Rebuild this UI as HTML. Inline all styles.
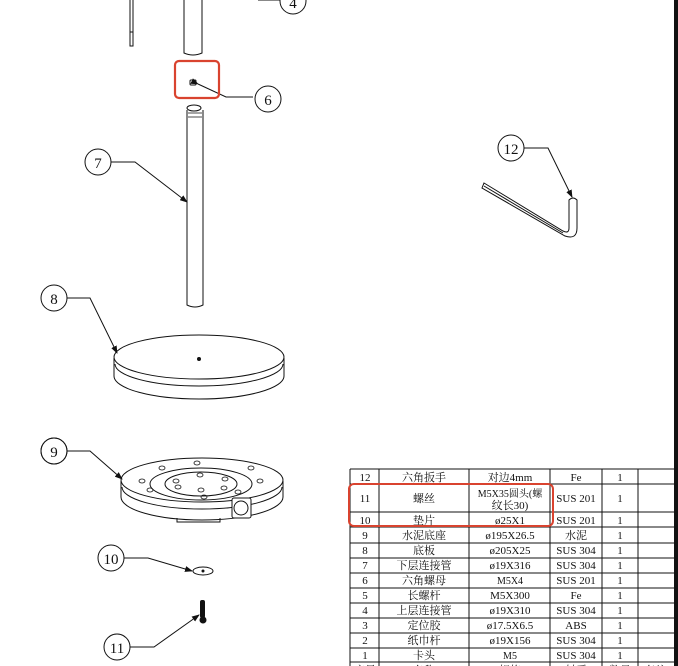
<!DOCTYPE html>
<html><head><meta charset="utf-8"><style>
html,body{margin:0;padding:0;background:#fff;width:678px;height:666px;overflow:hidden}
svg{display:block}
text{font-family:"Liberation Serif","Noto Serif CJK SC",serif;fill:#111}
</style></head><body>
<svg width="678" height="666" viewBox="0 0 678 666" xmlns="http://www.w3.org/2000/svg">
<defs><marker id="a" markerWidth="8" markerHeight="6" refX="7" refY="3" orient="auto"><path d="M0,0 L8,3 L0,6z" fill="#111"/></marker></defs>
<g stroke="#111" fill="none" stroke-width="1">
<path d="M130,0 V46 H133 V0"/>
<line x1="130" y1="32" x2="133" y2="32"/>
<path d="M184,0 V53 Q193,57 202,53 V0"/>
<path d="M258,0 H280"/>
<circle cx="293" cy="1" r="13" fill="#fff"/>
<rect x="190" y="80" width="6" height="5" rx="1"/>
<path d="M198,84 L226,97 H253" marker-start="url(#a)"/>
<circle cx="268" cy="99" r="13"/>
<rect x="175" y="61" width="44" height="37" rx="4" stroke="#d9432f" stroke-width="2.2"/>
<ellipse cx="194" cy="108" rx="7" ry="3"/>
<path d="M187,110 V305 Q195,309 203,305 V110"/>
<path d="M188,113 H202 M188,117 H202" stroke-width="0.8"/>
<circle cx="98" cy="162" r="13"/>
<path d="M111,162 H135 L187,202" marker-end="url(#a)"/>
<!-- base 8 -->
<circle cx="54" cy="298" r="13"/>
<path d="M67,298 H90 L117,353" marker-end="url(#a)"/>
<ellipse cx="199" cy="357" rx="85" ry="22"/>
<path d="M114,358 V376 A85,23 0 0 0 284,376 V358"/>
<path d="M115,364 A84,22 0 0 0 283,364"/>
<circle cx="199" cy="359" r="1.5" fill="#111"/>
<!-- base 9 -->
<circle cx="54" cy="451" r="13"/>
<path d="M67,451 H90 L122,479" marker-end="url(#a)"/>
<ellipse cx="202" cy="480" rx="81" ry="22"/>
<ellipse cx="201" cy="484" rx="51" ry="16"/>
<ellipse cx="201" cy="484" rx="36" ry="12"/>
<path d="M121,481 V497 A81,23 0 0 0 283,497 V481"/>
<path d="M122,487 A80,22 0 0 0 282,487"/>
<rect x="232" y="498" width="19" height="20" rx="2" fill="#fff"/>
<circle cx="241" cy="508" r="7"/>
<path d="M177,518 V522 H220 V518"/>
<g stroke-width="0.8">
<ellipse cx="142" cy="481" rx="3" ry="2"/><ellipse cx="150" cy="490" rx="3" ry="2"/>
<ellipse cx="162" cy="468" rx="3" ry="2"/><ellipse cx="197" cy="463" rx="3" ry="2"/>
<ellipse cx="251" cy="468" rx="3" ry="2"/><ellipse cx="260" cy="481" rx="3" ry="2"/>
<ellipse cx="238" cy="492" rx="3" ry="2"/><ellipse cx="204" cy="497" rx="3" ry="2"/>
<ellipse cx="200" cy="475" rx="3" ry="2"/><ellipse cx="176" cy="481" rx="3" ry="2"/>
<ellipse cx="225" cy="479" rx="3" ry="2"/><ellipse cx="201" cy="490" rx="3" ry="2"/>
<ellipse cx="178" cy="487" rx="3" ry="2"/><ellipse cx="224" cy="488" rx="3" ry="2"/>
</g>
<circle cx="54" cy="451" r="13"/>
<circle cx="111" cy="558" r="13"/>
<path d="M124,558 H148 L192,571" marker-end="url(#a)"/>
<ellipse cx="203" cy="571" rx="10" ry="4"/>
<circle cx="203" cy="571" r="1" fill="#111"/>
<circle cx="117" cy="647" r="13"/>
<path d="M130,647 H154 L199,615" marker-end="url(#a)"/>
<circle cx="511" cy="148" r="13"/>
<path d="M524,148 H548 L572,197" marker-end="url(#a)"/>
<path d="M484,183 L563,231 Q569,234 569,228 V200 Q573,196 577,200 V228 Q577,240 565,236 L482,188 Z"/>
<path d="M484,186 L563,233"/>
</g>
<rect x="200" y="600" width="5" height="18" rx="2" fill="#111"/>
<circle cx="203" cy="620" r="3.5" fill="#111"/>
<g font-size="15" text-anchor="middle">
<text x="293" y="8">4</text><text x="268" y="105">6</text><text x="98" y="168">7</text>
<text x="54" y="304">8</text><text x="54" y="457">9</text><text x="111" y="564">10</text>
<text x="117" y="653">11</text><text x="511" y="154">12</text>
</g>
<rect x="674" y="0" width="4" height="666" fill="#111"/>
<g stroke="#111" stroke-width="1" fill="none">
<path d="M350,469 H674 M350,484 H674 M350,512 H674 M350,527 H674 M350,543 H674 M350,558 H674 M350,573 H674 M350,588 H674 M350,603 H674 M350,618 H674 M350,633 H674 M350,648 H674 M350,662 H674"/>
<path d="M350,469 V666 M379,469 V666 M469,469 V666 M550,469 V666 M602,469 V666 M638,469 V666"/>
</g>
<rect x="349" y="484" width="204" height="42" rx="5" fill="none" stroke="#d9432f" stroke-width="2"/>
<g font-size="11" text-anchor="middle">
<text x="365" y="481">12</text><text x="424" y="481">六角扳手</text><text x="510" y="481">对边4mm</text><text x="576" y="481">Fe</text><text x="620" y="481">1</text>
<text x="365" y="502">11</text><text x="424" y="502">螺丝</text><text x="510" y="497" font-size="10">M5X35圆头(螺</text><text x="510" y="509">纹长30)</text><text x="576" y="502">SUS 201</text><text x="620" y="502">1</text>
<text x="365" y="524">10</text><text x="424" y="524">垫片</text><text x="510" y="524">ø25X1</text><text x="576" y="524">SUS 201</text><text x="620" y="524">1</text>
<text x="365" y="539">9</text><text x="424" y="539">水泥底座</text><text x="510" y="539">ø195X26.5</text><text x="576" y="539">水泥</text><text x="620" y="539">1</text>
<text x="365" y="554">8</text><text x="424" y="554">底板</text><text x="510" y="554">ø205X25</text><text x="576" y="554">SUS 304</text><text x="620" y="554">1</text>
<text x="365" y="569">7</text><text x="424" y="569">下层连接管</text><text x="510" y="569">ø19X316</text><text x="576" y="569">SUS 304</text><text x="620" y="569">1</text>
<text x="365" y="584">6</text><text x="424" y="584">六角螺母</text><text x="510" y="584" font-size="10">M5X4</text><text x="576" y="584">SUS 201</text><text x="620" y="584">1</text>
<text x="365" y="599">5</text><text x="424" y="599">长螺杆</text><text x="510" y="599">M5X300</text><text x="576" y="599">Fe</text><text x="620" y="599">1</text>
<text x="365" y="614">4</text><text x="424" y="614">上层连接管</text><text x="510" y="614">ø19X310</text><text x="576" y="614">SUS 304</text><text x="620" y="614">1</text>
<text x="365" y="629">3</text><text x="424" y="629">定位胶</text><text x="510" y="629">ø17.5X6.5</text><text x="576" y="629">ABS</text><text x="620" y="629">1</text>
<text x="365" y="644">2</text><text x="424" y="644">纸巾杆</text><text x="510" y="644">ø19X156</text><text x="576" y="644">SUS 304</text><text x="620" y="644">1</text>
<text x="365" y="659">1</text><text x="424" y="659">卡头</text><text x="510" y="659" font-size="10">M5</text><text x="576" y="659">SUS 304</text><text x="620" y="659">1</text>
<text x="365" y="674">序号</text><text x="424" y="674">名称</text><text x="510" y="674">规格</text><text x="576" y="674">材质</text><text x="620" y="674">数量</text><text x="656" y="674">备注</text>
</g>
</svg>
</body></html>
